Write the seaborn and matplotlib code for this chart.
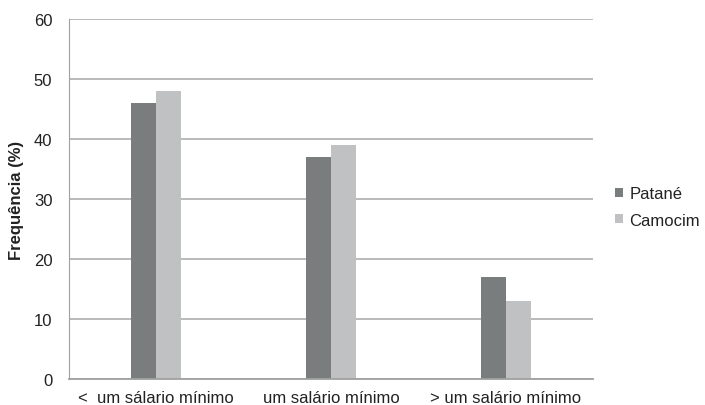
import matplotlib
matplotlib.use("Agg")
import matplotlib.pyplot as plt
import seaborn as sns
import pandas as pd
from matplotlib.patches import Patch

categories = ["<  um sálario mínimo", "um salário mínimo", "> um salário mínimo"]
series = ["Patané", "Camocim"]
patane = [46, 37, 17]
camocim = [48, 39, 13]
yticks = [0, 10, 20, 30, 40, 50, 60]

df = pd.DataFrame({
    "cat": categories * 2,
    "serie": [series[0]] * 3 + [series[1]] * 3,
    "val": patane + camocim,
})

sns.set_style("white")
plt.rcParams['font.family'] = ['Liberation Sans', 'DejaVu Sans']

colors = ["#797d7e", "#c0c1c3"]
fig = plt.figure(figsize=(7.05, 4.06), dpi=100)
ax = fig.add_axes([69/705, 1-380/406, 524/705, 360/406])
sns.barplot(data=df, x="cat", y="val", hue="serie", palette=colors,
            width=50/175, gap=0, ax=ax, legend=False, saturation=1,
            linewidth=0)
ax.set_xlim(-0.5, 2.5)
ax.set_ylim(0, 60)
ax.set_yticks(yticks)
ax.set_yticklabels([str(t) for t in yticks], fontsize=12, color="#222222")
ax.tick_params(axis='x', labelsize=12, colors="#222222", length=0, pad=8)
ax.tick_params(axis='y', length=5, width=1, color="#a0a0a0", pad=7, direction="out")
ax.grid(axis='y', color="#b4b4b4", linewidth=1.3)
ax.set_axisbelow(True)
for s in ["top", "right"]:
    ax.spines[s].set_visible(False)
ax.spines["left"].set_color("#a0a0a0")
ax.spines["bottom"].set_color("#a0a0a0")
ax.spines["bottom"].set_linewidth(1.3)
ax.set_xlabel("")
ax.set_ylabel("Frequência (%)", fontsize=12, fontweight="bold", color="#222222", labelpad=7)

handles = [Patch(facecolor=c, edgecolor="none") for c in colors]
fig.legend(handles, series, loc="center left", bbox_to_anchor=(612/705, 1-208/406),
           frameon=False, fontsize=12, handlelength=0.45, handleheight=0.45,
           handletextpad=0.4, labelspacing=0.7, labelcolor="#222222",
           borderpad=0.2, borderaxespad=0)

fig.savefig("out.png", dpi=100)
